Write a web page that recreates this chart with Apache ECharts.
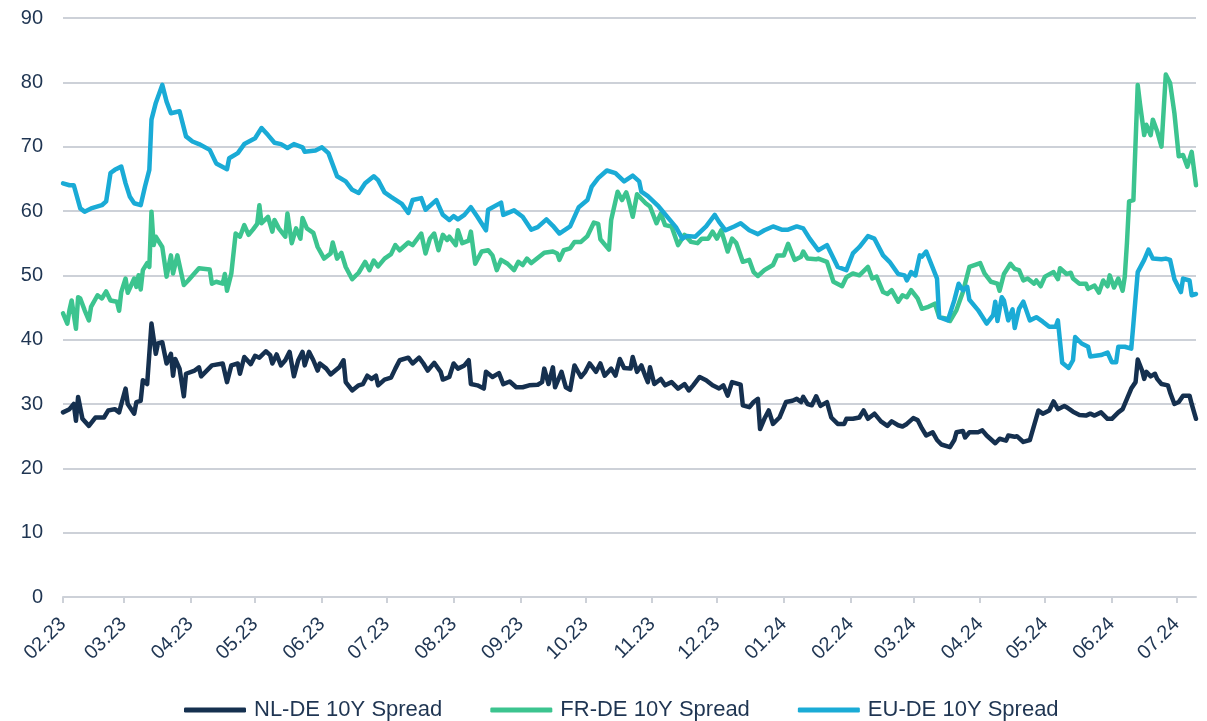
<!DOCTYPE html>
<html>
<head>
<meta charset="utf-8">
<script src="https://cdn.jsdelivr.net/npm/echarts@6/dist/echarts.min.js"></script>
<style>
  html, body { margin: 0; padding: 0; background: #fff; }
  #main { width: 1207px; height: 721px; }
</style>
</head>
<body>
<div id="main"></div>
<script>
// month ticks shown on the x axis
const monthTicks = [
  '2023-02-01', '2023-03-01', '2023-04-01', '2023-05-01', '2023-06-01', '2023-07-01',
  '2023-08-01', '2023-09-01', '2023-10-01', '2023-11-01', '2023-12-01', '2024-01-01',
  '2024-02-01', '2024-03-01', '2024-04-01', '2024-05-01', '2024-06-01', '2024-07-01'
];
const seriesNames = ['NL-DE 10Y Spread', 'FR-DE 10Y Spread', 'EU-DE 10Y Spread'];

// spreads in bp
const nlSpread = [
  ['2023-02-01',28.7],['2023-02-04',29.2],['2023-02-06',30.0],['2023-02-07',27.4],['2023-02-08',31.1],['2023-02-10',27.7],
  ['2023-02-13',26.6],['2023-02-16',27.9],['2023-02-20',27.9],['2023-02-22',29.0],['2023-02-25',29.2],['2023-02-27',28.7],
  ['2023-03-02',32.4],['2023-03-03',30.0],['2023-03-06',28.5],['2023-03-07',30.3],['2023-03-09',30.5],['2023-03-10',33.7],
  ['2023-03-12',33.1],['2023-03-14',42.5],['2023-03-16',37.8],['2023-03-17',39.4],['2023-03-19',39.6],['2023-03-21',36.3],
  ['2023-03-23',37.8],['2023-03-24',34.4],['2023-03-25',37.0],['2023-03-27',35.5],['2023-03-29',31.2],['2023-03-30',34.7],
  ['2023-04-03',35.2],['2023-04-05',35.7],['2023-04-06',34.3],['2023-04-11',36.0],['2023-04-16',36.3],['2023-04-18',33.4],
  ['2023-04-20',36.0],['2023-04-23',36.3],['2023-04-24',34.7],['2023-04-26',37.3],['2023-04-29',36.2],['2023-05-01',37.5],
  ['2023-05-03',37.2],['2023-05-06',38.2],['2023-05-08',37.6],['2023-05-09',36.3],['2023-05-11',37.7],['2023-05-13',36.0],
  ['2023-05-15',36.8],['2023-05-17',38.1],['2023-05-19',34.3],['2023-05-21',36.8],['2023-05-23',38.1],['2023-05-24',36.0],
  ['2023-05-26',38.1],['2023-05-28',36.8],['2023-05-30',35.2],['2023-05-31',36.3],['2023-06-03',35.5],['2023-06-05',34.6],
  ['2023-06-09',35.7],['2023-06-11',36.8],['2023-06-12',33.4],['2023-06-15',32.1],['2023-06-18',32.9],['2023-06-20',33.1],
  ['2023-06-22',34.4],['2023-06-24',33.9],['2023-06-26',34.4],['2023-06-27',32.9],['2023-06-30',33.8],['2023-07-03',34.1],
  ['2023-07-05',35.5],['2023-07-07',36.8],['2023-07-11',37.2],['2023-07-13',36.3],['2023-07-16',37.2],['2023-07-18',36.3],
  ['2023-07-20',35.2],['2023-07-23',36.4],['2023-07-26',35.0],['2023-07-27',33.8],['2023-07-30',34.2],['2023-08-01',36.3],
  ['2023-08-03',35.5],['2023-08-06',36.0],['2023-08-08',36.8],['2023-08-09',33.1],['2023-08-12',32.9],['2023-08-15',32.4],
  ['2023-08-16',35.0],['2023-08-19',34.2],['2023-08-22',34.8],['2023-08-24',33.1],['2023-08-27',33.5],['2023-08-30',32.6],
  ['2023-09-02',32.6],['2023-09-05',32.9],['2023-09-09',33.0],['2023-09-11',33.4],['2023-09-12',35.5],['2023-09-14',33.1],
  ['2023-09-16',35.7],['2023-09-17',32.6],['2023-09-20',35.0],['2023-09-22',32.6],['2023-09-24',32.2],['2023-09-26',36.0],
  ['2023-09-29',34.2],['2023-10-01',35.0],['2023-10-03',36.3],['2023-10-06',35.0],['2023-10-08',36.3],['2023-10-10',34.4],
  ['2023-10-13',35.5],['2023-10-15',34.4],['2023-10-17',37.0],['2023-10-19',35.6],['2023-10-22',35.5],['2023-10-23',37.3],
  ['2023-10-25',35.0],['2023-10-27',36.0],['2023-10-29',34.2],['2023-10-30',33.4],['2023-10-31',35.7],['2023-11-02',33.1],
  ['2023-11-05',33.9],['2023-11-07',32.9],['2023-11-10',33.4],['2023-11-13',32.4],['2023-11-16',33.1],['2023-11-18',32.1],
  ['2023-11-20',32.9],['2023-11-23',34.2],['2023-11-26',33.7],['2023-11-29',32.9],['2023-12-02',32.4],['2023-12-04',32.9],
  ['2023-12-06',31.3],['2023-12-08',33.4],['2023-12-12',33.0],['2023-12-13',29.8],['2023-12-16',29.5],['2023-12-18',30.3],
  ['2023-12-20',30.8],['2023-12-21',26.1],['2023-12-23',27.7],['2023-12-25',29.0],['2023-12-27',26.9],['2023-12-30',27.9],
  ['2024-01-02',30.3],['2024-01-05',30.5],['2024-01-07',30.8],['2024-01-09',30.3],['2024-01-10',31.1],['2024-01-12',30.0],
  ['2024-01-14',29.8],['2024-01-16',31.2],['2024-01-18',29.7],['2024-01-21',30.3],['2024-01-23',27.9],['2024-01-26',26.9],
  ['2024-01-29',26.9],['2024-01-30',27.7],['2024-02-02',27.7],['2024-02-05',27.9],['2024-02-07',29.0],['2024-02-09',27.7],
  ['2024-02-12',28.5],['2024-02-15',27.3],['2024-02-18',26.6],['2024-02-20',27.3],['2024-02-23',26.7],['2024-02-25',26.5],
  ['2024-02-27',26.9],['2024-03-01',27.8],['2024-03-03',27.5],['2024-03-05',26.2],['2024-03-07',25.1],['2024-03-10',25.6],
  ['2024-03-12',24.4],['2024-03-14',23.7],['2024-03-18',23.3],['2024-03-20',24.4],['2024-03-21',25.6],['2024-03-24',25.8],
  ['2024-03-25',24.8],['2024-03-27',25.6],['2024-03-31',25.6],['2024-04-02',25.9],['2024-04-04',25.1],['2024-04-08',23.9],
  ['2024-04-10',24.6],['2024-04-13',24.3],['2024-04-14',25.1],['2024-04-17',24.9],['2024-04-18',25.0],['2024-04-21',24.1],
  ['2024-04-24',24.4],['2024-04-28',29.0],['2024-04-30',28.5],['2024-05-03',29.0],['2024-05-05',30.4],['2024-05-07',29.2],
  ['2024-05-10',29.7],['2024-05-11',29.5],['2024-05-14',28.8],['2024-05-17',28.3],['2024-05-20',28.2],['2024-05-22',28.5],
  ['2024-05-24',28.2],['2024-05-27',28.7],['2024-05-30',27.7],['2024-06-01',27.7],['2024-06-04',28.7],['2024-06-06',29.2],
  ['2024-06-08',30.8],['2024-06-10',32.4],['2024-06-12',33.4],['2024-06-13',36.9],['2024-06-15',35.2],['2024-06-16',33.9],
  ['2024-06-17',35.0],['2024-06-19',34.3],['2024-06-21',34.7],['2024-06-22',33.9],['2024-06-24',33.1],['2024-06-27',32.9],
  ['2024-06-28',31.8],['2024-06-30',30.0],['2024-07-02',30.3],['2024-07-04',31.3],['2024-07-07',31.3],['2024-07-08',30.0],
  ['2024-07-10',27.7]
];

const frSpread = [
  ['2023-02-01',44.1],['2023-02-03',42.5],['2023-02-04',44.6],['2023-02-05',46.1],['2023-02-07',41.7],['2023-02-08',46.6],
  ['2023-02-09',46.4],['2023-02-11',44.6],['2023-02-13',43.0],['2023-02-14',45.1],['2023-02-17',46.9],['2023-02-19',46.4],
  ['2023-02-21',47.5],['2023-02-23',46.1],['2023-02-26',45.9],['2023-02-27',44.5],['2023-02-28',47.4],['2023-03-02',49.5],
  ['2023-03-03',47.3],['2023-03-06',49.5],['2023-03-07',48.2],['2023-03-08',50.0],['2023-03-09',47.8],['2023-03-10',50.8],
  ['2023-03-12',51.9],['2023-03-13',51.3],['2023-03-14',59.9],['2023-03-15',54.7],['2023-03-16',56.0],['2023-03-19',54.4],
  ['2023-03-21',49.8],['2023-03-23',53.1],['2023-03-24',50.3],['2023-03-26',53.1],['2023-03-29',48.5],['2023-03-31',49.2],
  ['2023-04-05',51.1],['2023-04-10',50.9],['2023-04-11',48.7],['2023-04-13',49.0],['2023-04-16',48.7],['2023-04-17',50.2],
  ['2023-04-18',47.6],['2023-04-20',50.3],['2023-04-22',56.5],['2023-04-24',56.0],['2023-04-26',57.8],['2023-04-28',56.3],
  ['2023-04-30',57.1],['2023-05-02',58.0],['2023-05-03',60.9],['2023-05-04',58.1],['2023-05-07',59.1],['2023-05-09',56.8],
  ['2023-05-10',58.6],['2023-05-12',57.3],['2023-05-15',56.0],['2023-05-16',59.6],['2023-05-18',55.0],['2023-05-20',57.3],
  ['2023-05-22',55.7],['2023-05-23',58.9],['2023-05-25',57.3],['2023-05-28',56.6],['2023-05-30',54.4],['2023-06-02',52.6],
  ['2023-06-05',53.4],['2023-06-06',55.1],['2023-06-08',52.6],['2023-06-10',53.5],['2023-06-12',51.3],['2023-06-15',49.4],
  ['2023-06-18',50.4],['2023-06-21',52.1],['2023-06-23',50.8],['2023-06-25',52.3],['2023-06-27',51.4],['2023-06-30',52.6],
  ['2023-07-03',53.3],['2023-07-05',54.7],['2023-07-07',53.9],['2023-07-11',55.1],['2023-07-13',54.7],['2023-07-17',56.5],
  ['2023-07-19',53.4],['2023-07-21',55.7],['2023-07-23',56.5],['2023-07-25',53.9],['2023-07-27',56.3],['2023-07-29',55.5],
  ['2023-07-30',56.0],['2023-08-02',54.7],['2023-08-03',57.0],['2023-08-05',55.0],['2023-08-08',55.4],['2023-08-09',56.8],
  ['2023-08-11',51.8],['2023-08-14',53.7],['2023-08-17',53.9],['2023-08-19',53.1],['2023-08-21',50.8],['2023-08-23',52.4],
  ['2023-08-26',51.8],['2023-08-29',50.8],['2023-08-31',52.1],['2023-09-02',51.6],['2023-09-04',52.6],['2023-09-06',51.9],
  ['2023-09-12',53.5],['2023-09-16',53.7],['2023-09-18',53.4],['2023-09-19',52.4],['2023-09-21',53.9],['2023-09-24',54.2],
  ['2023-09-26',55.2],['2023-09-29',55.2],['2023-10-02',56.1],['2023-10-05',58.2],['2023-10-07',58.0],['2023-10-08',55.6],
  ['2023-10-12',54.0],['2023-10-13',58.6],['2023-10-16',63.0],['2023-10-18',61.7],['2023-10-20',62.9],['2023-10-21',61.8],
  ['2023-10-23',59.1],['2023-10-25',62.6],['2023-10-29',61.2],['2023-10-31',60.7],['2023-11-03',58.1],['2023-11-05',59.6],
  ['2023-11-07',57.8],['2023-11-10',57.6],['2023-11-13',54.7],['2023-11-16',56.3],['2023-11-19',55.2],['2023-11-22',55.0],
  ['2023-11-24',55.7],['2023-11-27',55.7],['2023-11-29',56.8],['2023-12-01',55.7],['2023-12-03',57.0],['2023-12-06',53.7],
  ['2023-12-08',55.7],['2023-12-10',55.0],['2023-12-13',52.1],['2023-12-16',52.4],['2023-12-18',50.5],['2023-12-20',49.9],
  ['2023-12-23',50.8],['2023-12-27',51.6],['2023-12-29',53.1],['2024-01-01',53.1],['2024-01-03',54.9],['2024-01-06',52.4],
  ['2024-01-09',52.9],['2024-01-10',53.7],['2024-01-12',52.6],['2024-01-16',52.5],['2024-01-17',52.6],['2024-01-21',52.1],
  ['2024-01-24',49.0],['2024-01-28',48.3],['2024-01-30',49.7],['2024-02-02',50.3],['2024-02-05',50.0],['2024-02-09',51.3],
  ['2024-02-11',49.5],['2024-02-13',49.8],['2024-02-16',47.4],['2024-02-18',47.1],['2024-02-20',47.7],['2024-02-23',45.9],
  ['2024-02-25',46.9],['2024-02-27',46.6],['2024-02-29',47.7],['2024-03-03',46.4],['2024-03-05',44.8],['2024-03-08',45.1],
  ['2024-03-11',45.6],['2024-03-13',43.5],['2024-03-16',43.3],['2024-03-18',42.9],['2024-03-21',44.6],['2024-03-24',47.4],
  ['2024-03-27',51.3],['2024-04-01',51.9],['2024-04-03',50.3],['2024-04-06',49.0],['2024-04-09',48.7],['2024-04-10',47.6],
  ['2024-04-12',50.2],['2024-04-15',51.8],['2024-04-17',51.0],['2024-04-19',50.8],['2024-04-21',49.2],['2024-04-23',49.5],
  ['2024-04-26',48.7],['2024-04-27',49.2],['2024-04-29',48.3],['2024-05-01',49.8],['2024-05-05',50.5],['2024-05-07',49.4],
  ['2024-05-08',51.1],['2024-05-11',50.2],['2024-05-13',50.4],['2024-05-14',49.5],['2024-05-17',48.7],['2024-05-20',48.7],
  ['2024-05-21',47.9],['2024-05-24',48.4],['2024-05-26',47.3],['2024-05-28',49.2],['2024-05-30',48.3],['2024-05-31',50.0],
  ['2024-06-02',48.1],['2024-06-04',49.5],['2024-06-06',47.6],['2024-06-07',49.8],['2024-06-08',55.0],['2024-06-09',61.5],
  ['2024-06-11',61.7],['2024-06-13',79.6],['2024-06-14',76.8],['2024-06-16',71.8],['2024-06-17',73.4],['2024-06-19',71.8],
  ['2024-06-20',74.2],['2024-06-22',72.4],['2024-06-24',70.0],['2024-06-26',81.2],['2024-06-28',79.9],['2024-06-30',75.2],
  ['2024-07-02',68.5],['2024-07-04',68.7],['2024-07-06',66.9],['2024-07-08',69.2],['2024-07-10',64.0]
];

const euSpread = [
  ['2023-02-01',64.3],['2023-02-04',64.0],['2023-02-06',64.0],['2023-02-09',60.4],['2023-02-11',59.9],['2023-02-14',60.4],
  ['2023-02-19',60.9],['2023-02-21',61.5],['2023-02-23',65.9],['2023-02-25',66.4],['2023-02-28',66.9],['2023-03-02',64.3],
  ['2023-03-04',62.2],['2023-03-06',61.2],['2023-03-09',60.9],['2023-03-11',63.8],['2023-03-13',66.4],['2023-03-14',74.2],
  ['2023-03-16',76.8],['2023-03-19',79.6],['2023-03-21',77.0],['2023-03-23',75.2],['2023-03-27',75.5],['2023-03-30',71.6],
  ['2023-04-02',70.8],['2023-04-05',70.4],['2023-04-10',69.5],['2023-04-13',67.4],['2023-04-18',66.5],['2023-04-19',68.2],
  ['2023-04-23',69.0],['2023-04-26',70.4],['2023-05-01',71.3],['2023-05-04',72.9],['2023-05-07',71.8],['2023-05-10',70.6],
  ['2023-05-13',70.4],['2023-05-16',69.8],['2023-05-19',70.4],['2023-05-23',69.9],['2023-05-24',69.2],['2023-05-29',69.4],
  ['2023-06-01',69.9],['2023-06-04',69.0],['2023-06-08',65.4],['2023-06-12',64.6],['2023-06-15',63.3],['2023-06-18',62.8],
  ['2023-06-21',64.3],['2023-06-25',65.4],['2023-06-27',64.8],['2023-06-30',62.9],['2023-07-03',62.2],['2023-07-08',61.1],
  ['2023-07-11',59.7],['2023-07-13',61.7],['2023-07-17',62.0],['2023-07-19',60.2],['2023-07-24',61.7],['2023-07-25',60.9],
  ['2023-07-27',59.4],['2023-07-30',58.6],['2023-08-01',59.2],['2023-08-03',58.7],['2023-08-06',59.4],['2023-08-09',60.6],
  ['2023-08-12',59.1],['2023-08-16',57.0],['2023-08-17',60.2],['2023-08-23',61.3],['2023-08-24',59.4],['2023-08-29',60.1],
  ['2023-09-02',59.1],['2023-09-06',57.1],['2023-09-09',57.5],['2023-09-13',58.7],['2023-09-16',57.7],['2023-09-19',56.5],
  ['2023-09-24',57.6],['2023-09-28',60.6],['2023-10-02',61.7],['2023-10-04',63.8],['2023-10-07',65.1],['2023-10-11',66.3],
  ['2023-10-15',65.9],['2023-10-19',64.6],['2023-10-23',65.5],['2023-10-26',64.6],['2023-10-27',63.0],['2023-10-30',62.3],
  ['2023-11-04',60.7],['2023-11-09',58.7],['2023-11-12',57.5],['2023-11-15',55.7],['2023-11-17',56.1],['2023-11-21',56.0],
  ['2023-11-26',57.6],['2023-11-30',59.4],['2023-12-02',58.3],['2023-12-05',57.0],['2023-12-09',57.6],['2023-12-12',58.1],
  ['2023-12-16',57.0],['2023-12-20',56.4],['2023-12-23',57.0],['2023-12-27',57.6],['2023-12-31',57.1],['2024-01-03',57.1],
  ['2024-01-07',57.6],['2024-01-10',57.3],['2024-01-13',55.7],['2024-01-17',53.9],['2024-01-21',54.7],['2024-01-26',51.3],
  ['2024-01-30',50.8],['2024-02-02',53.4],['2024-02-05',54.4],['2024-02-09',56.1],['2024-02-12',55.7],['2024-02-16',53.1],
  ['2024-02-19',52.1],['2024-02-23',50.2],['2024-02-26',50.0],['2024-02-27',49.2],['2024-02-29',50.5],['2024-03-02',50.0],
  ['2024-03-04',53.1],['2024-03-05',52.9],['2024-03-07',53.7],['2024-03-12',49.5],['2024-03-13',43.5],['2024-03-17',43.0],
  ['2024-03-20',46.1],['2024-03-22',48.7],['2024-03-24',47.7],['2024-03-26',48.2],['2024-03-27',46.2],['2024-03-31',44.6],
  ['2024-04-04',42.5],['2024-04-07',43.8],['2024-04-08',45.9],['2024-04-09',42.9],['2024-04-11',46.6],['2024-04-12',46.1],
  ['2024-04-14',43.0],['2024-04-16',44.7],['2024-04-17',41.8],['2024-04-19',44.8],['2024-04-21',45.9],['2024-04-24',43.0],
  ['2024-04-27',43.5],['2024-04-30',42.8],['2024-05-03',42.0],['2024-05-06',42.0],['2024-05-07',43.0],['2024-05-09',36.4],
  ['2024-05-12',35.6],['2024-05-14',36.8],['2024-05-15',40.4],['2024-05-18',39.4],['2024-05-21',38.9],['2024-05-22',37.4],
  ['2024-05-27',37.6],['2024-05-30',38.0],['2024-06-01',36.5],['2024-06-03',36.5],['2024-06-04',38.9],['2024-06-07',38.9],
  ['2024-06-10',38.6],['2024-06-11',42.5],['2024-06-13',50.5],['2024-06-16',52.4],['2024-06-18',54.0],['2024-06-20',52.6],
  ['2024-06-24',52.5],['2024-06-26',52.6],['2024-06-28',52.4],['2024-06-30',49.4],['2024-07-03',47.4],['2024-07-04',49.5],
  ['2024-07-07',49.2],['2024-07-08',46.9],['2024-07-10',47.1]
];

const colors = ['#15304f', '#3cc48f', '#1aabd6'];
const textColor = '#1f3552';
const gridColor = '#cdd1d8';

const toTime = (s) => {
  const [y, m, d] = s.split('-').map(Number);
  return new Date(y, m - 1, d).getTime();
};
const pad = (n) => (n < 10 ? '0' + n : '' + n);

const makeLine = (name, data, color) => ({
  name: name,
  type: 'line',
  data: data.map(([d, v]) => [toTime(d), v]),
  showSymbol: false,
  symbol: 'none',
  color: color,
  lineStyle: { width: 4.5, color: color, cap: 'round', join: 'round' }
});

const tickTimes = monthTicks.map(toTime);

const option = {
  animation: false,
  textStyle: { fontFamily: 'Liberation Sans, Arial, sans-serif' },
  grid: { left: 63, right: 11, top: 18, bottom: 124 },
  legend: {
    data: seriesNames,
    top: 694,
    left: 179,
    itemWidth: 62,
    itemHeight: 5,
    itemGap: 48,
    icon: 'roundRect',
    textStyle: { color: textColor, fontSize: 22, padding: [0, 0, 0, 3] }
  },
  // dates plotted as timestamps on a value axis so month ticks can be fixed
  xAxis: {
    type: 'value',
    min: toTime('2023-02-01'),
    max: toTime('2024-07-10'),
    axisLine: { show: true, lineStyle: { color: gridColor, width: 2 } },
    axisTick: { show: true, customValues: tickTimes, length: 6, lineStyle: { color: gridColor, width: 2 } },
    splitLine: { show: false },
    axisLabel: {
      customValues: tickTimes,
      rotate: 45,
      fontSize: 20,
      color: textColor,
      margin: 24,
      formatter: (v) => {
        const d = new Date(v);
        return pad(d.getMonth() + 1) + '.' + String(d.getFullYear()).slice(2);
      }
    }
  },
  yAxis: {
    type: 'value',
    min: 0,
    max: 90,
    interval: 10,
    axisLine: { show: false },
    axisTick: { show: false },
    splitLine: { lineStyle: { color: gridColor, width: 2 } },
    axisLabel: { fontSize: 20, color: textColor, margin: 20 }
  },
  series: [
    makeLine(seriesNames[0], nlSpread, colors[0]),
    makeLine(seriesNames[1], frSpread, colors[1]),
    makeLine(seriesNames[2], euSpread, colors[2])
  ]
};

echarts.init(document.getElementById('main')).setOption(option);
</script>
</body>
</html>
